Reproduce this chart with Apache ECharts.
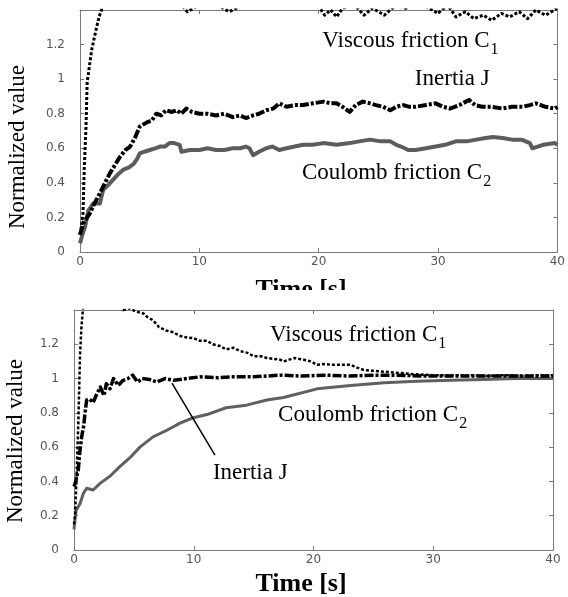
<!DOCTYPE html>
<html><head><meta charset="utf-8">
<script src="https://cdn.jsdelivr.net/npm/echarts@6/dist/echarts.min.js"></script>
<style>html,body{margin:0;padding:0;background:#fff}#c{width:568px;height:597px}</style>
</head><body><div id="c"></div>
<script>
// ---------- DATA ----------
const seriesNames = ['Viscous friction C1', 'Inertia J', 'Coulomb friction C2'];
const xTicks = [0, 10, 20, 30, 40];
const yTicks = [0, 0.2, 0.4, 0.6, 0.8, 1, 1.2];
const yMax = 1.4;

// upper plot
const topViscT = [0, 0.1, 0.25, 0.36, 0.5,  0.6, 0.8, 0.98, 1.2, 1.39,  1.6, 1.8, 2.2, 3, 4,
  5, 6, 7, 8, 9,  10, 11, 12.5, 14, 16,  18, 20, 20.5, 21, 21.5,  22, 23, 23.8, 24.5, 25.5,
  26.5, 27.3, 28, 29, 30,  30.8, 31.5, 32.3, 33, 33.8,  34.5, 35.3, 36, 36.8, 37.5,  38.2, 39, 40];
const topViscV = [0.1, 0.14, 0.22, 0.49, 0.72,  0.98, 1.08, 1.17, 1.24, 1.30,  1.36, 1.40, 1.5, 1.65, 1.7,
  1.65, 1.58, 1.52, 1.47, 1.39,  1.43, 1.45, 1.39, 1.44, 1.46,  1.44, 1.42, 1.37, 1.40, 1.36,  1.41, 1.43, 1.37, 1.41, 1.37,
  1.43, 1.41, 1.45, 1.42, 1.38,  1.43, 1.36, 1.39, 1.35, 1.37,  1.34, 1.38, 1.36, 1.39, 1.35,  1.40, 1.37, 1.41];

const topInertT = [0, 0.3, 0.84, 1.2, 1.67,  2.1, 2.5, 2.9, 3.34, 3.8,  4.2, 4.6, 5.0, 5.6, 6.0,
  6.4, 6.8, 7.2, 7.7, 8.1,  8.5, 8.9, 9.4, 10, 10.7,  11.4, 12.1, 12.8, 13.4, 13.9,
  14.5, 15, 15.6, 16.2, 16.7,  17.3, 18, 18.7, 19.5, 20.4,  21, 21.5, 22, 22.6, 23.1,
  23.7, 24.3, 24.8, 25.4, 26,  26.5, 27.1, 27.6, 28.1, 29,  29.8, 30.4, 31, 31.8, 32.6,
  33.1, 33.7, 34.5, 35.4, 36.2,  37.1, 37.7, 38.2, 39, 39.8,  40];
const topInertV = [0.1, 0.17, 0.225, 0.28, 0.34,  0.4, 0.455, 0.5, 0.55, 0.59,  0.61, 0.66, 0.725, 0.75, 0.76,
  0.80, 0.79, 0.82, 0.81, 0.82,  0.80, 0.83, 0.81, 0.80, 0.80,  0.79, 0.80, 0.78, 0.79, 0.775,
  0.79, 0.80, 0.82, 0.83, 0.86,  0.84, 0.85, 0.85, 0.86, 0.87,  0.86, 0.86, 0.84, 0.81, 0.85,
  0.87, 0.86, 0.85, 0.84, 0.82,  0.84, 0.85, 0.84, 0.84, 0.85,  0.86, 0.84, 0.83, 0.85, 0.88,
  0.85, 0.84, 0.84, 0.83, 0.84,  0.84, 0.85, 0.86, 0.84, 0.83,  0.84];

const topCoulT = [0, 0.2, 0.42, 0.7, 1.1,  1.67, 1.8, 1.95, 2.4, 2.8,  3.2, 3.6, 4.1, 4.5, 4.8,
  5.0, 5.4, 5.85, 6.3, 6.7,  7.1, 7.5, 7.9, 8.35, 8.5,  9.2, 10, 10.7, 11.4, 12.1,
  12.8, 13.4, 13.9, 14.2, 14.5,  15, 15.6, 16.1, 16.7, 17.3,  18, 18.7, 19.5, 20.4, 21.5,
  22.6, 23.4, 24.3, 25.2, 26,  26.5, 26.9, 27.5, 28.1, 29,  29.8, 30.6, 31.5, 32.4, 33.2,
  34, 34.6, 35.4, 36.2, 37,  37.7, 37.9, 38.8, 39.8, 40];
const topCoulV = [0.05, 0.1, 0.145, 0.24, 0.28,  0.28, 0.32, 0.36, 0.39, 0.42,  0.45, 0.475, 0.49, 0.51, 0.54,
  0.57, 0.58, 0.59, 0.60, 0.61,  0.61, 0.63, 0.63, 0.62, 0.58,  0.59, 0.59, 0.60, 0.59, 0.59,
  0.60, 0.60, 0.61, 0.60, 0.56,  0.58, 0.60, 0.61, 0.59, 0.60,  0.61, 0.62, 0.62, 0.63, 0.62,
  0.63, 0.64, 0.65, 0.64, 0.64,  0.62, 0.61, 0.59, 0.59, 0.60,  0.61, 0.62, 0.64, 0.64, 0.65,
  0.66, 0.665, 0.66, 0.65, 0.65,  0.63, 0.60, 0.62, 0.63, 0.62];

// lower plot
const botViscT = [0, 0.08, 0.2, 0.36, 0.5,  0.62, 0.72, 0.8, 1.0, 1.5,  2.5, 3.5, 4.1, 4.6, 5.2,
  5.8, 6.1, 6.6, 7.1, 7.7,  8.3, 8.8, 9.4, 10, 10.5,  11.1, 11.6, 12.2, 12.7, 13.3,
  13.9, 14.5, 15, 15.6, 16.1,  16.7, 17.2, 17.5, 18.4, 19.2,  19.8, 20.3, 21, 21.5, 22.3,
  23.1, 23.6, 24.2, 25, 25.9,  26.8, 27.6, 28.5, 30, 31.5,  33, 34.5, 36, 37.5, 39,  40];
const botViscV = [0.15, 0.2, 0.4, 0.74, 1.13,  1.3, 1.38, 1.45, 1.6, 1.75,  1.7, 1.55, 1.40, 1.41, 1.39,
  1.38, 1.36, 1.34, 1.30, 1.28,  1.27, 1.25, 1.24, 1.235, 1.22,  1.22, 1.20, 1.19, 1.17, 1.18,
  1.16, 1.15, 1.13, 1.13, 1.12,  1.115, 1.11, 1.10, 1.12, 1.11,  1.10, 1.08, 1.085, 1.08, 1.08,
  1.08, 1.065, 1.05, 1.045, 1.04,  1.035, 1.03, 1.025, 1.02, 1.02,  1.02, 1.015, 1.02, 1.015, 1.02,  1.02];

const botInertT = [0, 0.15, 0.36, 0.5, 0.64,  0.8, 0.92, 1.06, 1.3, 1.6,  1.9, 2.2, 2.5, 2.7, 3.0,
  3.3, 3.7, 4.1, 4.5, 4.9,  5.3, 5.7, 6.3, 6.9, 7.6,  8.3, 9.4, 10.5, 12, 13.3,
  15, 17.2, 19, 21, 23,  25, 27, 29, 31, 33,  35, 37, 39, 40];
const botInertV = [0.37, 0.40, 0.47, 0.58, 0.66,  0.72, 0.80, 0.875, 0.88, 0.86,  0.91, 0.95, 0.90, 0.97, 0.94,
  1.0, 0.96, 0.99, 1.0, 1.02,  0.98, 1.0, 0.995, 0.98, 1.0,  0.99, 1.0, 1.01, 1.005, 1.01,
  1.01, 1.02, 1.015, 1.02, 1.015,  1.02, 1.02, 1.015, 1.015, 1.015,  1.015, 1.015, 1.015, 1.015];

const botCoulT = [0, 0.17, 0.5, 0.78, 1.06,  1.6, 2.2, 3.0, 3.8, 4.7,  5.5, 6.6, 7.8, 8.85, 9.9,
  11.1, 12.7, 14.4, 16.1, 17.5,  20.3, 23.1, 25.9, 28.6, 31.5,  34.2, 37, 40];
const botCoulV = [0.12, 0.23, 0.27, 0.33, 0.36,  0.35, 0.39, 0.43, 0.485, 0.54,  0.60, 0.66, 0.70, 0.74, 0.77,
  0.79, 0.83, 0.845, 0.875, 0.89,  0.94, 0.96, 0.975, 0.985, 0.99,  0.995, 1.0, 1.0];

// ---------- BUILD ----------
function zip(t, v) { const n = Math.min(t.length, v.length); const o = []; for (let i = 0; i < n; i++) o.push([t[i], v[i]]); return o; }

const AX = '#7a7a7a';
const LBL = { color: '#555', fontFamily: 'DejaVu Sans', fontSize: 12 };
const xMin = xTicks[0], xMax = xTicks[xTicks.length - 1], xStep = xTicks[1] - xTicks[0];
const yStep = yTicks[1] - yTicks[0];

function xAxisPair(g) {
  const base = { type: 'value', gridIndex: g, min: xMin, max: xMax, interval: xStep, splitLine: { show: false },
    axisLine: { onZero: false, lineStyle: { color: AX, width: 1 } },
    axisTick: { inside: true, length: 4, lineStyle: { color: AX } } };
  return [
    Object.assign({}, base, { position: 'bottom', axisLabel: Object.assign({ margin: 4 }, LBL) }),
    Object.assign({}, base, { position: 'top', axisLabel: { show: false } })
  ];
}
function yAxisPair(g) {
  const base = { type: 'value', gridIndex: g, min: yTicks[0], max: yMax, interval: yStep, splitLine: { show: false },
    axisLine: { onZero: false, lineStyle: { color: AX, width: 1 } },
    axisTick: { inside: true, length: 4, lineStyle: { color: AX } } };
  return [
    Object.assign({}, base, { position: 'left', axisLabel: Object.assign({ margin: 15, showMaxLabel: false,
      formatter: v => String(Math.round(v * 10) / 10) }, LBL) }),
    Object.assign({}, base, { position: 'right', axisLabel: { show: false } })
  ];
}

function line(name, data, xi, color, width, dash) {
  return { type: 'line', name, data, xAxisIndex: xi, yAxisIndex: xi, showSymbol: false, symbol: 'none',
    clip: true, animation: false, lineStyle: { color, width, type: dash, cap: 'butt', join: 'round' }, z: 2 };
}

const chart = echarts.init(document.getElementById('c'));
chart.setOption({
  animation: false,
  backgroundColor: '#fff',
  grid: [
    { left: 80, top: 10, width: 479, height: 242 },
    { left: 74, top: 310, width: 479, height: 240 }
  ],
  xAxis: [].concat(xAxisPair(0), xAxisPair(1)),
  yAxis: [].concat(yAxisPair(0), yAxisPair(1)),
  series: [
    line(seriesNames[2], zip(topCoulT, topCoulV), 0, '#5c5c5c', 4, 'solid'),
    line(seriesNames[1], zip(topInertT, topInertV), 0, '#000', 4, [9, 2, 3, 2]),
    line(seriesNames[0], zip(topViscT, topViscV), 0, '#000', 3, [3, 2]),
    line(seriesNames[2], zip(botCoulT, botCoulV), 2, '#606060', 3, 'solid'),
    line(seriesNames[1], zip(botInertT, botInertV), 2, '#000', 3.5, [9, 2, 3, 2]),
    line(seriesNames[0], zip(botViscT, botViscV), 2, '#000', 2.5, [3, 2])
  ]
});

// ---------- ANNOTATIONS ----------
const SERIF = '"Liberation Serif", "Times New Roman", serif';
const F = '23px ' + SERIF, FS = '16px ' + SERIF;
const notes = [
  { g: 0, main: 'Viscous friction C', sub: '1', at: [20.3, 1.18] },
  { g: 0, main: 'Inertia J', at: [28.06, 0.96] },
  { g: 0, main: 'Coulomb friction C', sub: '2', at: [18.6, 0.416] },
  { g: 1, main: 'Viscous friction C', sub: '1', at: [16.37, 1.214] },
  { g: 1, main: 'Coulomb friction C', sub: '2', at: [17.04, 0.747] },
  { g: 1, main: 'Inertia J', at: [11.6, 0.408] }
];
const leader = { g: 1, from: [8.18, 0.974], to: [11.77, 0.554] };

const mctx = document.createElement('canvas').getContext('2d');
function textW(s, font) { mctx.font = font; return mctx.measureText(s).width; }
function txt(x, y, s, font, extra) {
  return Object.assign({ type: 'text', x, y, z: 50,
    style: { text: s, font, fill: '#000', align: 'left', textAlign: 'left', verticalAlign: 'middle', textVerticalAlign: 'middle' } }, extra || {});
}
const els = [];
notes.forEach(n => {
  const p = chart.convertToPixel({ gridIndex: n.g }, n.at);
  els.push(txt(p[0], p[1] - 7, n.main, F));
  if (n.sub) els.push(txt(p[0] + textW(n.main, F) + 1, p[1] + 2, n.sub, FS));
});
const a = chart.convertToPixel({ gridIndex: leader.g }, leader.from);
const b = chart.convertToPixel({ gridIndex: leader.g }, leader.to);
els.push({ type: 'line', z: 50, shape: { x1: a[0], y1: a[1], x2: b[0], y2: b[1] }, style: { stroke: '#000', lineWidth: 1.5 } });

// axis titles
const FT = '23px ' + SERIF, FX = 'bold 26px ' + SERIF;
function centered(x, y, s, font, rot) {
  return { type: 'text', x, y, rotation: rot || 0, z: 50,
    style: { text: s, font, fill: '#000', align: 'center', textAlign: 'center', verticalAlign: 'middle', textVerticalAlign: 'middle' } };
}
els.push(centered(18, 147, 'Normalized value', FT, Math.PI / 2));
els.push(centered(16, 441, 'Normalized value', FT, Math.PI / 2));
els.push(centered(301, 290, 'Time [s]', FX));
els.push(centered(301, 584, 'Time [s]', FX));
// the upper figure's x title is cut off by the lower figure
els.push({ type: 'rect', z: 60, shape: { x: 0, y: 290, width: 568, height: 16 }, style: { fill: '#fff' } });

chart.setOption({ graphic: { elements: els } });
</script></body></html>
